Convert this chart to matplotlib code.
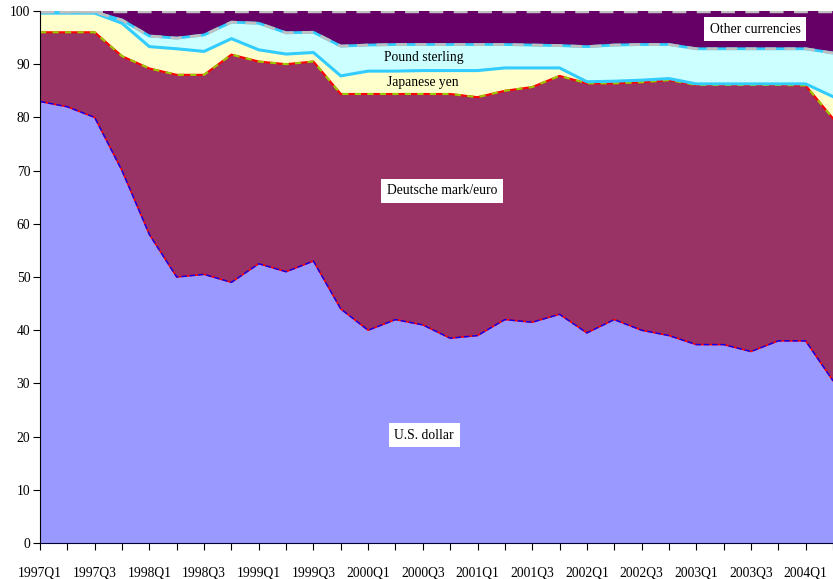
import numpy as np
import matplotlib
matplotlib.use('Agg')
import matplotlib.pyplot as plt

# Quarters 1997Q1 .. 2004Q2
quarters = [f'{y}Q{q}' for y in range(1997, 2005) for q in range(1, 5)][:30]

# Cumulative tops of each band (percent)
usd_top = [83, 82, 80, 70, 58, 50, 50.5, 49, 52.5, 51, 53, 44, 40, 42, 41,
           38.5, 39, 42, 41.5, 43, 39.5, 42, 40, 39, 37.3, 37.3, 36, 38, 38, 30.5]
dm_top = [96, 96, 96, 91.5, 89.2, 88, 88, 91.8, 90.5, 90, 90.5, 84.4, 84.4, 84.4, 84.4,
          84.4, 83.8, 85, 85.7, 87.8, 86.4, 86.4, 86.6, 87, 86.1, 86.1, 86.1, 86.1, 86, 79.8]
yen_top = [99.6, 99.6, 99.6, 97.7, 93.3, 92.9, 92.4, 94.8, 92.7, 91.9, 92.2, 87.8, 88.7, 88.7, 88.8,
           88.8, 88.8, 89.3, 89.3, 89.3, 86.7, 86.8, 87.0, 87.3, 86.3, 86.3, 86.3, 86.3, 86.3, 83.9]
gbp_top = [99.8, 99.8, 99.8, 98.3, 95.3, 94.9, 95.5, 97.9, 97.7, 95.9, 96.0, 93.4, 93.6, 93.7, 93.7,
           93.7, 93.7, 93.7, 93.6, 93.5, 93.3, 93.6, 93.7, 93.7, 92.9, 92.9, 92.9, 92.9, 92.9, 92.1]
other_top = [100] * 30

# Shares per currency
usd = np.array(usd_top)
dm = np.array(dm_top) - usd
yen = np.array(yen_top) - np.array(dm_top)
gbp = np.array(gbp_top) - np.array(yen_top)
other = np.array(other_top) - np.array(gbp_top)

x = np.arange(len(quarters))

plt.rcParams['font.family'] = ['Liberation Serif', 'DejaVu Serif']

fig = plt.figure(figsize=(8.33, 5.79), dpi=100)
ax = fig.add_axes([40 / 833, 36 / 579, 1 - 40 / 833, 532 / 579])

ax.stackplot(x, usd, dm, yen, gbp, other,
             colors=['#9999ff', '#993366', '#ffffcc', '#ccffff', '#660066'], lw=0)

# boundary lines
ax.plot(x, usd_top, color='red', lw=1.2)
ax.plot(x, usd_top, color='blue', lw=1, ls=(0, (4, 2)))
ax.plot(x, dm_top, color='red', lw=1.5)
ax.plot(x, dm_top, color='#99cc00', lw=1.5, ls=(0, (3, 3)))
ax.plot(x, yen_top, color='#33ccff', lw=2.2)
ax.plot(x, gbp_top, color='#33ccff', lw=2)
ax.plot(x, gbp_top, color='#c0c0c0', lw=2, ls=(0, (4, 3)))
ax.plot(x, other_top, color='#c0c0c0', lw=2.5, ls=(0, (4, 3)))

ax.set_xlim(0, (833 - 40) / 27.5)
ax.set_ylim(0, 100)
ax.set_yticks(np.arange(0, 101, 10))
ax.set_xticks(x)
ax.set_xticklabels([q if i % 2 == 0 else '' for i, q in enumerate(quarters)])
ax.tick_params(axis='x', direction='out', length=5, pad=12, labelsize=9.8, color='black')
ax.tick_params(axis='y', direction='out', length=5, pad=2, labelsize=9.8, color='black')
ax.spines['top'].set_visible(False)
ax.spines['right'].set_visible(False)
ax.spines['left'].set_color('black')
ax.spines['bottom'].set_color('#000033')

box = dict(facecolor='white', edgecolor='none', pad=4)
ax.text(26.15, 96.6, 'Other currencies', ha='center', va='center', fontsize=9.8, bbox=box)
ax.text(14.05, 91.2, 'Pound sterling', ha='center', va='center', fontsize=9.8)
ax.text(14.0, 86.5, 'Japanese yen', ha='center', va='center', fontsize=9.8)
ax.text(14.7, 66.2, 'Deutsche mark/euro', ha='center', va='center', fontsize=9.8, bbox=box)
ax.text(14.05, 20.3, 'U.S. dollar', ha='center', va='center', fontsize=9.8, bbox=box)

fig.savefig('out.png', dpi=100)
